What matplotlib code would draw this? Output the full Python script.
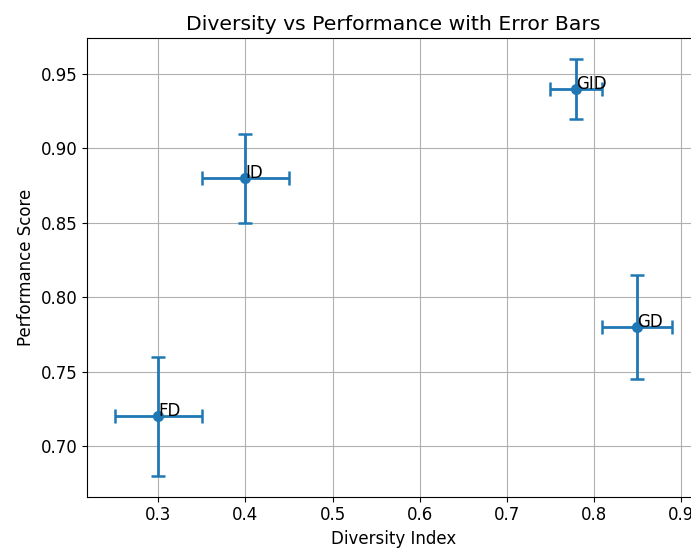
import matplotlib
matplotlib.use('Agg')
import matplotlib.pyplot as plt

# data
labels = ['FD', 'ID', 'GID', 'GD']
diversity = [0.30, 0.40, 0.78, 0.85]
performance = [0.72, 0.88, 0.94, 0.78]
div_err = [0.05, 0.05, 0.03, 0.04]
perf_err = [0.04, 0.03, 0.02, 0.035]

fig = plt.figure(figsize=(6.91, 5.52), dpi=100)
# axes run past the right edge, like the cropped reference
ax = fig.add_axes([87 / 691, (552 - 496.6) / 552, (700 - 87) / 691, (496.6 - 38.3) / 552])

ax.errorbar(diversity, performance, xerr=div_err, yerr=perf_err,
            fmt='o', capsize=5, elinewidth=2, capthick=1.8, markersize=7,
            color='#1f77b4')
for x, y, lab in zip(diversity, performance, labels):
    ax.text(x, y, lab, fontsize=12)

ax.set_xlabel('Diversity Index', fontsize=12)
ax.set_ylabel('Performance Score', fontsize=12)
ax.set_title('Diversity vs Performance with Error Bars', fontsize=14.7)
ax.tick_params(labelsize=12)
ax.grid(True)

fig.savefig('out.png', dpi=100)
